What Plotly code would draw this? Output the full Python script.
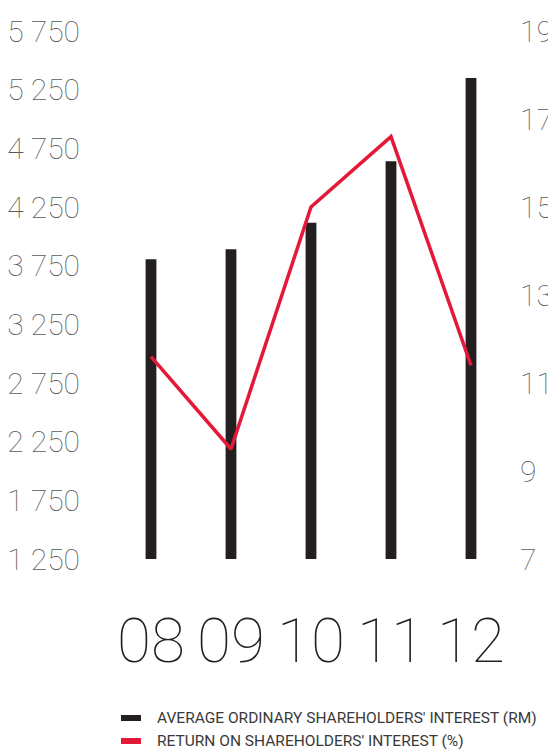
import plotly.graph_objects as go

years = ["08", "09", "10", "11", "12"]
avg_interest_rm = [3805, 3890, 4115, 4640, 5350]
return_pct = [11.6, 9.5, 15.0, 16.6, 11.4]

left_ticks = [1250, 1750, 2250, 2750, 3250, 3750, 4250, 4750, 5250, 5750]
left_labels = ["1 250", "1 750", "2 250", "2 750", "3 250", "3 750", "4 250", "4 750", "5 250", "5 750"]
right_ticks = [7, 9, 11, 13, 15, 17, 19]
right_labels = ["7", "9", "11", "13", "15", "17", "19"]

legend_names = ["AVERAGE ORDINARY SHAREHOLDERS' INTEREST (RM)", "RETURN ON SHAREHOLDERS' INTEREST (%)"]

BLACK = "#231f20"
RED = "#e31937"
GREY = "#58595b"
FONT = "Roboto, sans-serif"

fig = go.Figure()
fig.add_trace(go.Bar(x=years, y=avg_interest_rm, marker=dict(color=BLACK, line=dict(width=0)),
                     width=0.135, yaxis="y", showlegend=False))
fig.add_trace(go.Scatter(x=years, y=return_pct, mode="lines", line=dict(color=RED, width=3.5),
                         yaxis="y2", showlegend=False))

OFF = 8  # page body margin
W, H = 556 - OFF, 749 - OFF
# plot area in page pixels: x 111..511, y 31..559
L, R, T, B = 111 - OFF, W - (511 - OFF), 31 - OFF, H - (559 - OFF)
pw, ph = W - L - R, H - T - B

def px(x):
    return (x - OFF - L) / pw

def py(y):
    return (H - B - (y - OFF)) / ph

shapes = []
annotations = []
for i, (name, col) in enumerate(zip(legend_names, [BLACK, RED])):
    yc = 718 + i * 23
    shapes.append(dict(type="rect", xref="paper", yref="paper", x0=px(121), x1=px(141),
                       y0=py(yc + 3), y1=py(yc - 3), fillcolor=col, line=dict(width=0)))
    annotations.append(dict(text=name, xref="paper", yref="paper", x=px(155), y=py(yc),
                            xanchor="left", yanchor="middle", showarrow=False,
                            font=dict(family=FONT, size=15.5, color="#3a3a3a", weight=400)))

fig.update_layout(
    width=W, height=H,
    margin=dict(l=L, r=R, t=T, b=B, pad=0, autoexpand=False),
    plot_bgcolor="white", paper_bgcolor="white",
    bargap=0.8,
    xaxis=dict(type="category", showgrid=False, zeroline=False, showline=False, ticks="",
               automargin=False, tickmode="array", tickvals=years, ticktext=years,
               tickfont=dict(family=FONT, size=62, color=BLACK, weight=100), ticklabelstandoff=40),
    yaxis=dict(range=[1250, 5750], tickvals=left_ticks, ticktext=left_labels, showgrid=False,
               automargin=False, zeroline=False, showline=False, ticks="", ticklabelstandoff=30,
               tickfont=dict(family=FONT, size=30, color=GREY, weight=100)),
    yaxis2=dict(range=[7, 19], tickvals=right_ticks, ticktext=right_labels, overlaying="y",
                automargin=False, side="right", showgrid=False, zeroline=False, showline=False,
                ticks="", ticklabelstandoff=8,
                tickfont=dict(family=FONT, size=30, color=GREY, weight=100)),
    shapes=shapes,
    annotations=annotations,
)

fig.write_html("out.html")
